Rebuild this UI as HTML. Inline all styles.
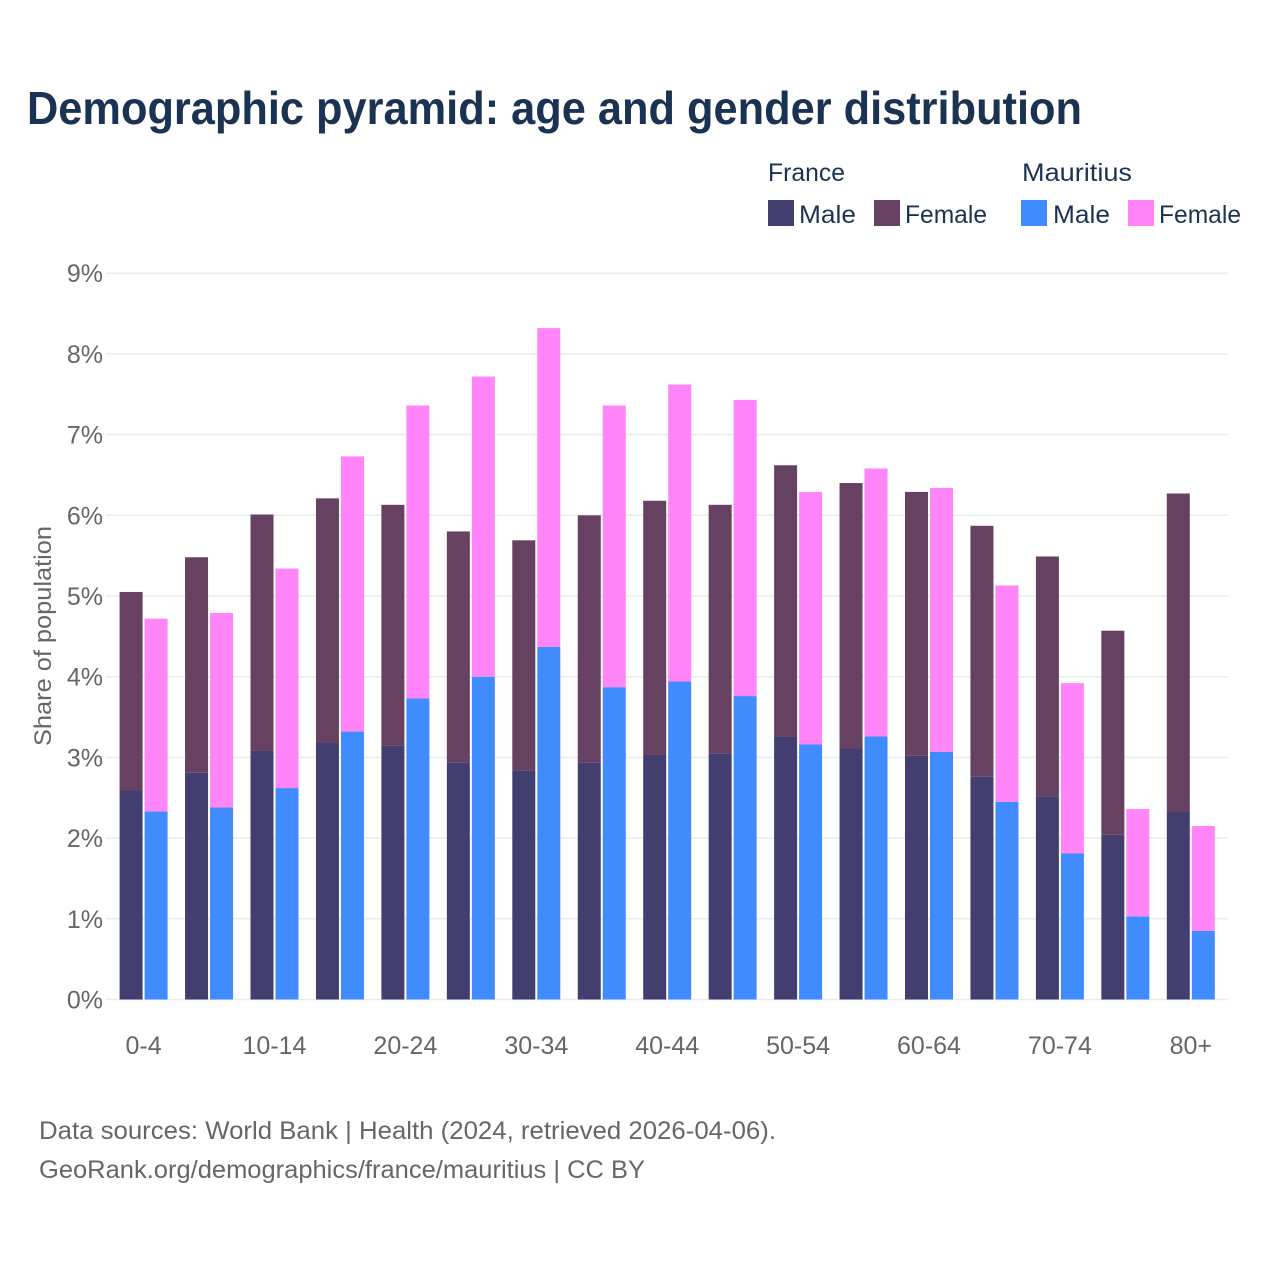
<!DOCTYPE html>
<html lang="en">
<head>
<meta charset="utf-8">
<title>Demographic pyramid: age and gender distribution</title>
<style>
  html, body { margin: 0; padding: 0; background: #ffffff; }
  svg { display: block; font-family: "Liberation Sans", sans-serif; }
</style>
</head>
<body>
<svg id="chart" width="1280" height="1280" viewBox="0 0 1280 1280" xmlns="http://www.w3.org/2000/svg">
  <rect x="0" y="0" width="1280" height="1280" fill="#ffffff"/>
  <text x="27" y="124" font-size="46" font-weight="700" fill="#1b3353" textLength="1055" lengthAdjust="spacingAndGlyphs">Demographic pyramid: age and gender distribution</text>

  <g font-size="25" fill="#1b3353">
    <text x="768" y="181" textLength="77" lengthAdjust="spacingAndGlyphs">France</text>
    <text x="1022" y="181" textLength="110" lengthAdjust="spacingAndGlyphs">Mauritius</text>
    <rect x="768" y="200" width="26" height="26" fill="#423f70"/>
    <text x="799" y="223" textLength="57" lengthAdjust="spacingAndGlyphs">Male</text>
    <rect x="874" y="200" width="26" height="26" fill="#674162"/>
    <text x="905" y="223" textLength="82" lengthAdjust="spacingAndGlyphs">Female</text>
    <rect x="1021" y="200" width="26" height="26" fill="#408cff"/>
    <text x="1053" y="223" textLength="57" lengthAdjust="spacingAndGlyphs">Male</text>
    <rect x="1128" y="200" width="26" height="26" fill="#ff85f9"/>
    <text x="1159" y="223" textLength="82" lengthAdjust="spacingAndGlyphs">Female</text>
  </g>

  <g id="grid"></g>
  <g id="bars"></g>
  <g id="ytick-labels"></g>
  <g id="xtick-labels"></g>

  <text transform="translate(51,746) rotate(-90)" x="0" y="0" font-size="24" fill="#666666" textLength="220" lengthAdjust="spacingAndGlyphs">Share of population</text>

  <text x="39" y="1139" font-size="25" fill="#666666" textLength="737" lengthAdjust="spacingAndGlyphs">Data sources: World Bank | Health (2024, retrieved 2026-04-06).</text>
  <text x="39" y="1178" font-size="25" fill="#666666" textLength="606" lengthAdjust="spacingAndGlyphs">GeoRank.org/demographics/france/mauritius | CC BY</text>
</svg>
<script>
const categories = ["0-4","5-9","10-14","15-19","20-24","25-29","30-34","35-39","40-44","45-49","50-54","55-59","60-64","65-69","70-74","75-79","80+"];
const xTickLabels = ["0-4","10-14","20-24","30-34","40-44","50-54","60-64","70-74","80+"];
const yTicks = [0,1,2,3,4,5,6,7,8,9];
const franceMale = [2.59,2.81,3.08,3.19,3.15,2.94,2.84,2.94,3.03,3.05,3.26,3.11,3.02,2.76,2.52,2.04,2.33];
const franceFemale = [2.46,2.67,2.93,3.02,2.98,2.86,2.85,3.06,3.15,3.08,3.36,3.29,3.27,3.11,2.97,2.53,3.94];
const mauritiusMale = [2.33,2.38,2.62,3.32,3.73,4.00,4.37,3.87,3.94,3.76,3.16,3.26,3.07,2.45,1.81,1.03,0.85];
const mauritiusFemale = [2.39,2.41,2.72,3.41,3.63,3.72,3.95,3.49,3.68,3.67,3.13,3.32,3.27,2.68,2.11,1.33,1.30];

const NS = "http://www.w3.org/2000/svg";
const Y0 = 999.5, PER_UNIT = 80.7;
const X0 = 143.6, STEP = 65.45, BAR_W = 23, BAR_OFFSET = 1;

function yScale(v) { return Y0 - v * PER_UNIT; }
function xCenter(i) { return X0 + i * STEP; }

function addBar(parent, x, v0, v1, fill) {
  const r = document.createElementNS(NS, "rect");
  r.setAttribute("x", x.toFixed(2));
  r.setAttribute("y", yScale(v1).toFixed(2));
  r.setAttribute("width", BAR_W);
  r.setAttribute("height", (yScale(v0) - yScale(v1)).toFixed(2));
  r.setAttribute("fill", fill);
  parent.appendChild(r);
  return r;
}

const gridG = document.getElementById("grid");
const yLabG = document.getElementById("ytick-labels");
yTicks.forEach(function (t) {
  const y = yScale(t);
  const l = document.createElementNS(NS, "line");
  
  
  l.setAttribute("x1", 106);
  l.setAttribute("x2", 1228);
  l.setAttribute("y1", y);
  l.setAttribute("y2", y);
  l.setAttribute("stroke", "#ebebeb");
  l.setAttribute("stroke-width", 1.5);
  gridG.appendChild(l);
  const tx = document.createElementNS(NS, "text");
  
  
  tx.setAttribute("x", 103);
  tx.setAttribute("y", y + 9);
  tx.setAttribute("text-anchor", "end");
  tx.setAttribute("font-size", 25);
  tx.setAttribute("fill", "#666666");
  tx.textContent = t + "%";
  yLabG.appendChild(tx);
});

const barsG = document.getElementById("bars");
categories.forEach(function (c, i) {
  const cx = xCenter(i);
  const xF = cx - BAR_W - BAR_OFFSET;
  const xM = cx + BAR_OFFSET;
  const a = addBar(barsG, xF, 0, franceMale[i], "#423f70");
  
  
  const b = addBar(barsG, xF, franceMale[i], franceMale[i] + franceFemale[i], "#674162");
  
  
  const d = addBar(barsG, xM, 0, mauritiusMale[i], "#408cff");
  
  
  const e = addBar(barsG, xM, mauritiusMale[i], mauritiusMale[i] + mauritiusFemale[i], "#ff85f9");
  
  
});

const xLabG = document.getElementById("xtick-labels");
xTickLabels.forEach(function (lab) {
  const tx = document.createElementNS(NS, "text");
  
  
  tx.setAttribute("x", xCenter(categories.indexOf(lab)));
  tx.setAttribute("y", 1054);
  tx.setAttribute("text-anchor", "middle");
  tx.setAttribute("font-size", 25);
  tx.setAttribute("fill", "#666666");
  tx.textContent = lab;
  xLabG.appendChild(tx);
});
</script>
</body>
</html>
